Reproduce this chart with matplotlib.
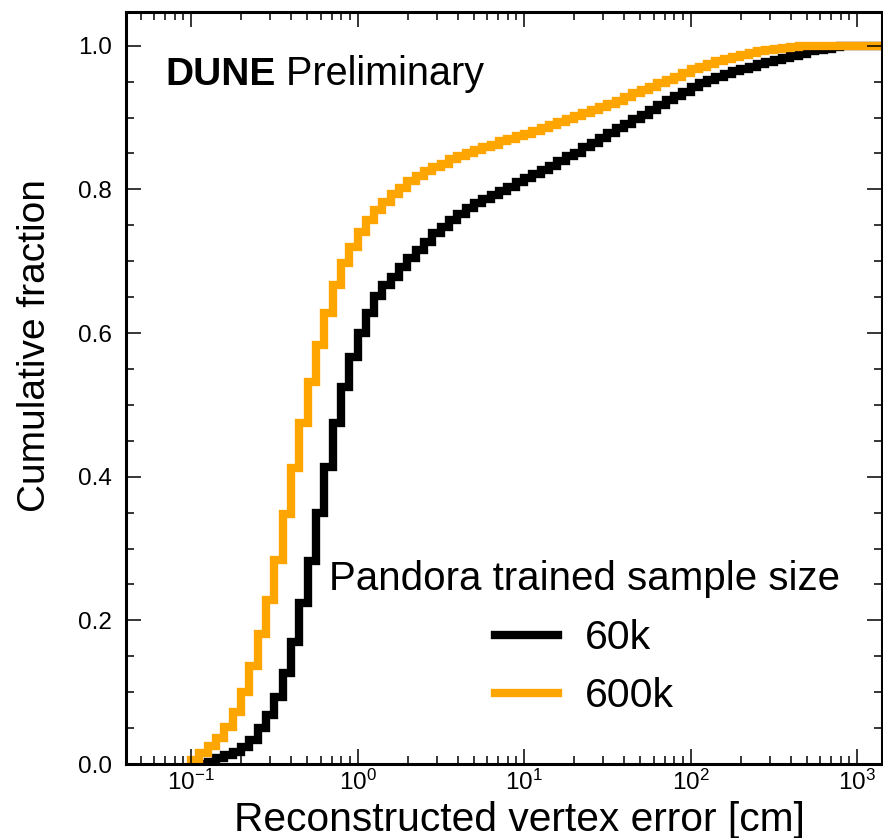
import numpy as np
import matplotlib
matplotlib.use("Agg")
import matplotlib.pyplot as plt
from matplotlib.ticker import MultipleLocator, LogLocator, NullFormatter

plt.rcParams['font.family'] = ['Liberation Sans', 'DejaVu Sans']
plt.rcParams['mathtext.fontset'] = 'custom'
plt.rcParams['mathtext.rm'] = 'Liberation Sans'
plt.rcParams['mathtext.it'] = 'Liberation Sans:italic'
plt.rcParams['mathtext.bf'] = 'Liberation Sans:bold'

# log bins, 20 per decade starting at 1 mm
bin_edges = np.logspace(-1, 3.2, 85)

# cumulative fraction of events per bin
cum_60k = [
    0, 0, 0.003, 0.008, 0.012, 0.017, 0.024, 0.033, 0.050, 0.068,
    0.093, 0.127, 0.170, 0.224, 0.282, 0.350, 0.414, 0.475, 0.525, 0.567,
    0.600, 0.628, 0.651, 0.667, 0.678, 0.692, 0.704, 0.716, 0.727, 0.739,
    0.748, 0.758, 0.766, 0.774, 0.781, 0.786, 0.792, 0.798, 0.804, 0.810,
    0.816, 0.822, 0.827, 0.833, 0.839, 0.846, 0.851, 0.859, 0.865, 0.871,
    0.878, 0.885, 0.891, 0.898, 0.904, 0.911, 0.918, 0.924, 0.930, 0.936,
    0.942, 0.948, 0.953, 0.957, 0.961, 0.965, 0.968, 0.971, 0.974, 0.977,
    0.980, 0.983, 0.986, 0.989, 0.992, 0.994, 0.996, 0.998, 1, 1,
    1, 1, 1, 1,
]
cum_600k = [
    0.006, 0.015, 0.025, 0.036, 0.051, 0.073, 0.100, 0.137, 0.181, 0.229,
    0.284, 0.348, 0.412, 0.475, 0.532, 0.584, 0.628, 0.667, 0.697, 0.720,
    0.741, 0.758, 0.772, 0.783, 0.794, 0.802, 0.811, 0.819, 0.825, 0.831,
    0.836, 0.842, 0.847, 0.851, 0.855, 0.859, 0.862, 0.867, 0.870, 0.874,
    0.877, 0.881, 0.885, 0.890, 0.894, 0.898, 0.902, 0.906, 0.911, 0.915,
    0.919, 0.923, 0.928, 0.934, 0.939, 0.943, 0.948, 0.953, 0.957, 0.962,
    0.967, 0.971, 0.975, 0.979, 0.982, 0.985, 0.987, 0.990, 0.992, 0.994,
    0.995, 0.997, 0.998, 0.999, 0.9995, 1, 1, 1, 1, 1,
    1, 1, 1, 1,
]
sample_labels = ['60k', '600k']
sample_colors = ['black', 'orange']

fig = plt.figure(figsize=(8.83, 8.38), dpi=100)
ax = fig.add_axes([0.1427, 0.0883, 0.8562, 0.8974])

for vals, lab, col in zip([cum_60k, cum_600k], sample_labels, sample_colors):
    ax.stairs(vals, bin_edges, color=col, linewidth=6, label=lab)

ax.set_xscale('log')
ax.set_xlim(0.0407, 1413)
ax.set_ylim(0, 1.047)

ax.yaxis.set_major_locator(MultipleLocator(0.2))
ax.yaxis.set_minor_locator(MultipleLocator(0.05))
ax.xaxis.set_minor_locator(LogLocator(base=10, subs=np.arange(2, 10), numticks=20))
ax.xaxis.set_minor_formatter(NullFormatter())

ax.tick_params(which='both', direction='in', top=True, right=True, width=1.1)
ax.tick_params(which='major', length=11)
ax.tick_params(which='minor', length=5.5)
ax.tick_params(axis='y', labelsize=17.5, pad=10)
ax.tick_params(axis='x', labelsize=17.5, pad=4)
for sp in ax.spines.values():
    sp.set_linewidth(2.2)

ax.set_xlabel('Reconstructed vertex error [cm]', fontsize=29.3)
ax.set_ylabel('Cumulative fraction', fontsize=28)
ax.xaxis.set_label_coords(0.521, -0.049)
ax.yaxis.set_label_coords(-0.097, 0.557)

t1 = ax.text(0.0516, 0.903, 'DUNE', transform=ax.transAxes, fontsize=28,
             fontweight='bold', va='baseline', ha='left')
ax.annotate(' Preliminary', xy=(1, 0), xycoords=t1, fontsize=28.5,
            va='bottom', ha='left')

leg = ax.legend(title='Pandora trained sample size', fontsize=29.5,
                title_fontsize=29, frameon=False, loc='center',
                bbox_to_anchor=(0.606, 0.1676), handlelength=1.55,
                handletextpad=0.65, labelspacing=0.5)

fig.savefig('out.png', dpi=100)
